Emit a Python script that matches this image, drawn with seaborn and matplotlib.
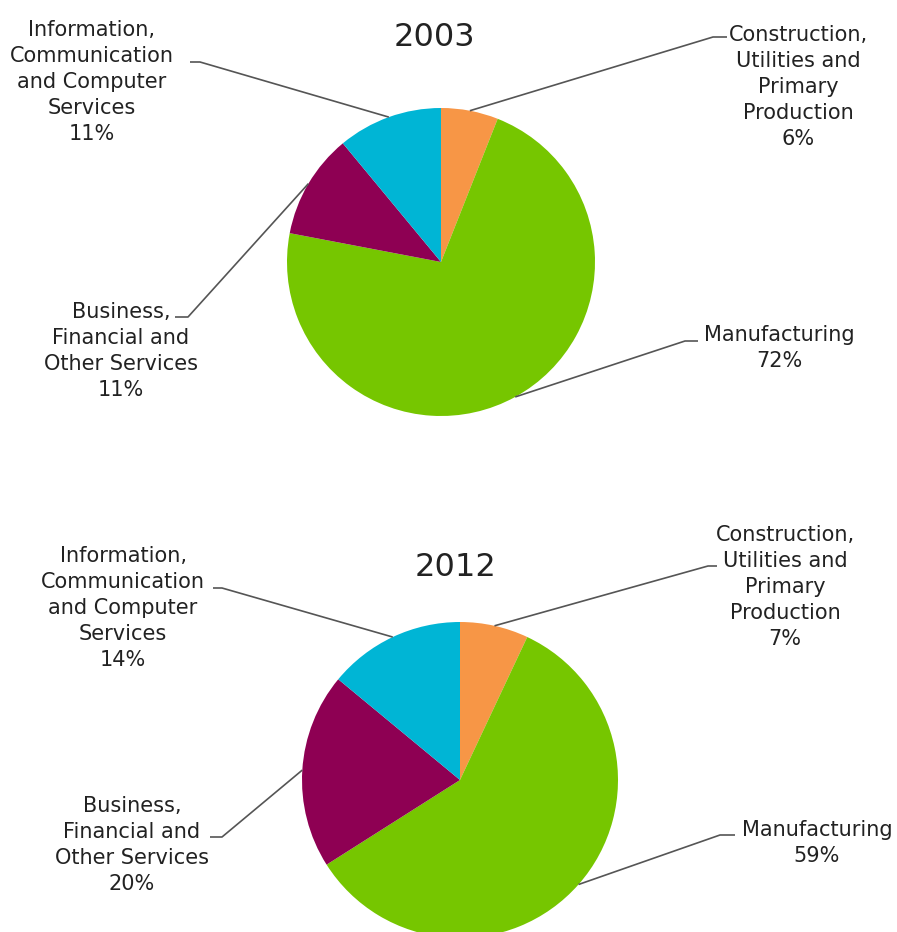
import numpy as np
import matplotlib
matplotlib.use("Agg")
import matplotlib.pyplot as plt
import seaborn as sns

# ---- data ----
categories = [
    "Construction, Utilities and Primary Production",
    "Manufacturing",
    "Business, Financial and Other Services",
    "Information, Communication and Computer Services",
]
wrapped_labels = [
    "Construction,\nUtilities and\nPrimary\nProduction",
    "Manufacturing",
    "Business,\nFinancial and\nOther Services",
    "Information,\nCommunication\nand Computer\nServices",
]
years = ["2003", "2012"]
shares_2003 = [6, 72, 11, 11]
shares_2012 = [7, 59, 20, 14]
colors = ["#F79646", "#76C600", "#8E0053", "#00B5D5"]

sns.set_theme(style="white")
plt.rcParams["font.family"] = ["DejaVu Sans"]

W, H = 897, 932
fig = plt.figure(figsize=(W / 100, H / 100), dpi=100)
ax = fig.add_axes([0, 0, 1, 1])

TXT = "#222222"
LINE = "#555555"

# layout in pixel coords (origin top-left)
layouts = [
    {
        "center": (441, 262), "radius": 154, "title": (434, 38),
        "text": [(798, 87), (779, 348), (121, 351), (92, 82)],
        "elbow": [((713, 37), (727, 37)), ((685, 341), (698, 341)),
                  ((188, 317), (175, 317)), ((200, 62), (190, 62))],
    },
    {
        "center": (460, 780), "radius": 158, "title": (456, 567),
        "text": [(785, 587), (817, 843), (132, 845), (123, 608)],
        "elbow": [((708, 566), (717, 566)), ((720, 835), (735, 835)),
                  ((222, 837), (210, 837)), ((222, 588), (213, 588))],
    },
]


def Y(y):
    return H - y


for year, shares, lay in zip(years, [shares_2003, shares_2012], layouts):
    cx, cy = lay["center"]
    r = lay["radius"]
    wedges, _ = ax.pie(shares, colors=colors, startangle=90, counterclock=False,
                       center=(cx, Y(cy)), radius=r,
                       wedgeprops=dict(linewidth=0))
    ax.text(lay["title"][0], Y(lay["title"][1]), year, ha="center", va="center",
            fontsize=23, color=TXT)
    total = sum(shares)
    for w, lab, val, tpos, (elb, end) in zip(wedges, wrapped_labels, shares,
                                              lay["text"], lay["elbow"]):
        ang = np.deg2rad((w.theta1 + w.theta2) / 2)
        ex = cx + r * np.cos(ang)
        ey = Y(cy) + r * np.sin(ang)
        ax.plot([ex, elb[0], end[0]], [ey, Y(elb[1]), Y(end[1])],
                color=LINE, lw=1.2, solid_capstyle="butt")
        pct = round(100 * val / total)
        ax.text(tpos[0], Y(tpos[1]), f"{lab}\n{pct}%", ha="center", va="center",
                fontsize=15, color=TXT, linespacing=1.38, multialignment="center")

ax.set_xlim(0, W)
ax.set_ylim(0, H)
ax.set_aspect("equal")
ax.axis("off")

fig.savefig("out.png", dpi=100, facecolor="white")
